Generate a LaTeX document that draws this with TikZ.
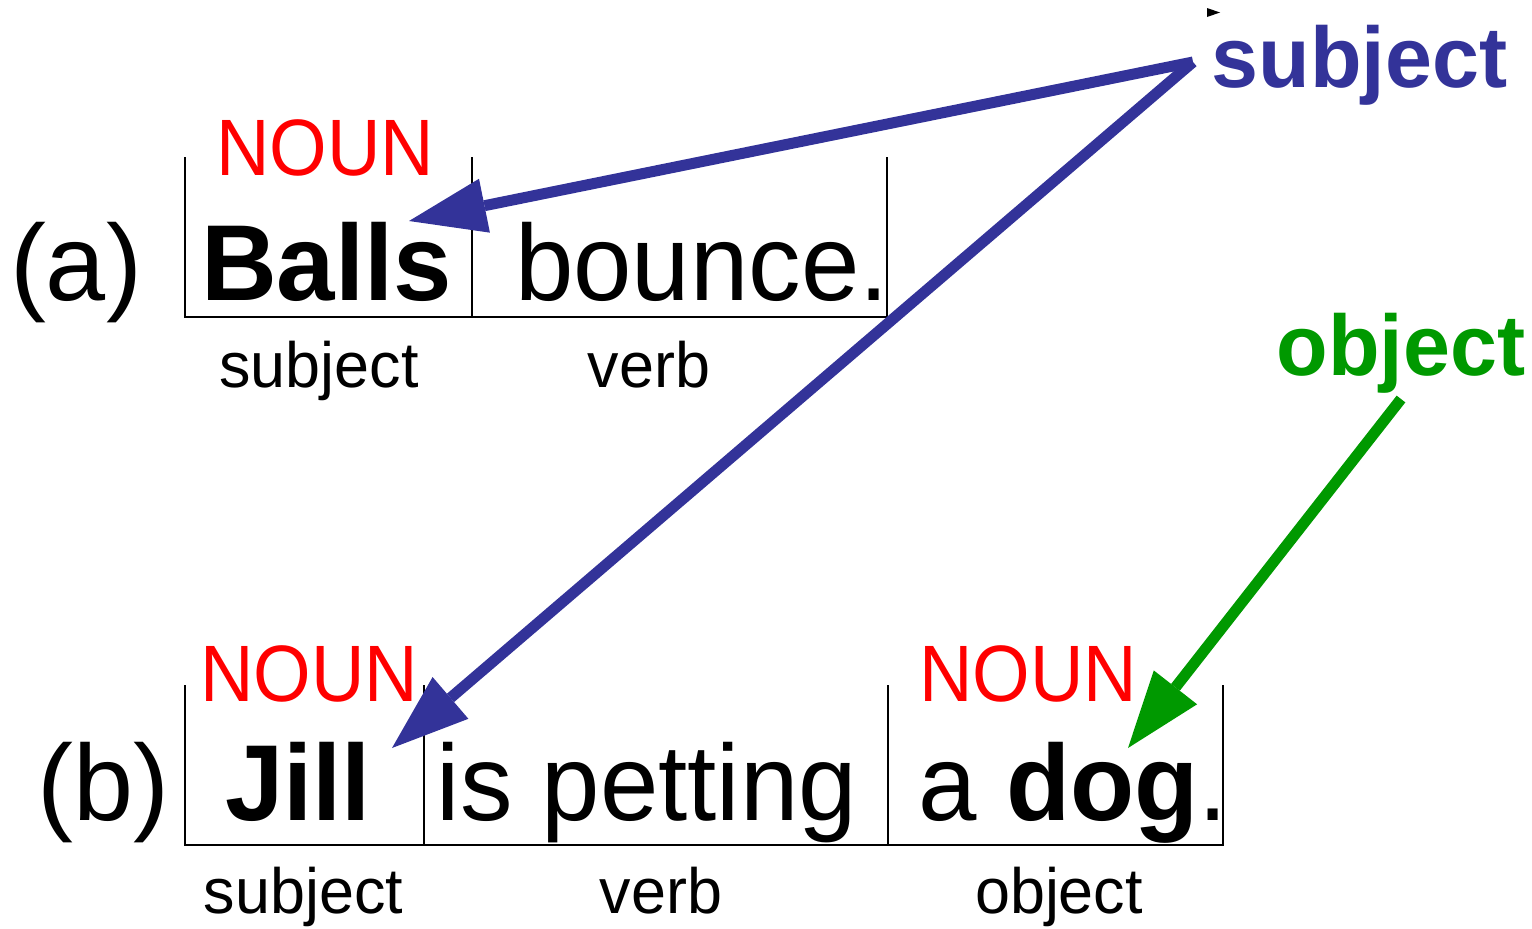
\documentclass[tikz,border=0pt]{standalone}
\usepackage{fontspec}
\setmainfont{Liberation Sans}
\usetikzlibrary{arrows.meta}
\definecolor{subjblue}{RGB}{51,51,153}
\definecolor{objgreen}{RGB}{0,153,0}
\newcommand\sqzw[1]{\scalebox{0.972}[1]{#1}}
\newcommand\sqzn[1]{\scalebox{0.925}[1]{#1}}
\newcommand\sqzl[1]{\scalebox{0.982}[1]{#1}}
\begin{document}
\begin{tikzpicture}[x=1pt,y=-1pt,
  word/.style={anchor=base,inner sep=0pt,font=\fontsize{108}{120}\selectfont},
  noun/.style={anchor=base,inner sep=0pt,text=red,font=\fontsize{80}{90}\selectfont},
  role/.style={anchor=base,inner sep=0pt,font=\fontsize{64}{72}\selectfont},
  tag/.style={anchor=base,inner sep=0pt,font=\fontsize{86}{96}\selectfont\bfseries},
  rulel/.style={line width=2.5pt},
  conn/.style={line width=11pt,-{Triangle[length=77pt,width=55pt,line width=0pt]}}
]
\useasboundingbox (0,0) rectangle (1532,929);

% ---- row (a)
\node[word] (la) at (76,300) {(a)};
\node[word] (balls) at (326.5,300) {\sqzw{\bfseries Balls}};
\node[word] (bounce) at (702,300) {\sqzw{bounce.}};
\node[noun] (nouna) at (325,175) {\sqzn{NOUN}};
\node[role] (subja) at (319,387) {\sqzl{subject}};
\node[role] (verba) at (649,387) {\sqzl{verb}};
\draw[rulel] (185,157) -- (185,317) -- (887,317) -- (887,157);
\draw[rulel] (472,157) -- (472,317);

% ---- row (b)
\node[word] (lb) at (103.5,820) {(b)};
\node[word] (jill) at (298,820) {\sqzw{\bfseries Jill}};
\node[word] (petting) at (647,820) {\sqzw{is petting}};
\node[word] (dog) at (1073,820) {\sqzw{a \textbf{dog}.}};
\node[noun] (nounb1) at (309.5,701) {\sqzn{NOUN}};
\node[noun] (nounb2) at (1028,701) {\sqzn{NOUN}};
\node[role] (subjb) at (303.5,913) {\sqzl{subject}};
\node[role] (verbb) at (661,913) {\sqzl{verb}};
\node[role] (objb) at (1059,913) {\sqzl{object}};
\draw[rulel] (185,685) -- (185,845) -- (1223,845) -- (1223,685);
\draw[rulel] (424,685) -- (424,845);
\draw[rulel] (888,685) -- (888,845);

% ---- tags
\node[tag,text=subjblue] (subjtag) at (1359.5,87) {\sqzl{subject}};
\node[tag,text=objgreen] (objtag) at (1401,375) {\sqzl{object}};
\fill (1207,8) -- (1207,17) -- (1220,12.5) -- cycle;

% ---- connectors
\coordinate (ssrc) at (1193,62);
\coordinate (osrc) at (1401,399);
\coordinate (tipa) at (409,221);
\coordinate (tipb) at (392,748);
\coordinate (tipc) at (1128,748);
\draw[conn,subjblue] (ssrc) -- (tipa);
\draw[conn,subjblue] (ssrc) -- (tipb);
\draw[conn,objgreen] (osrc) -- (tipc);
\end{tikzpicture}
\end{document}
